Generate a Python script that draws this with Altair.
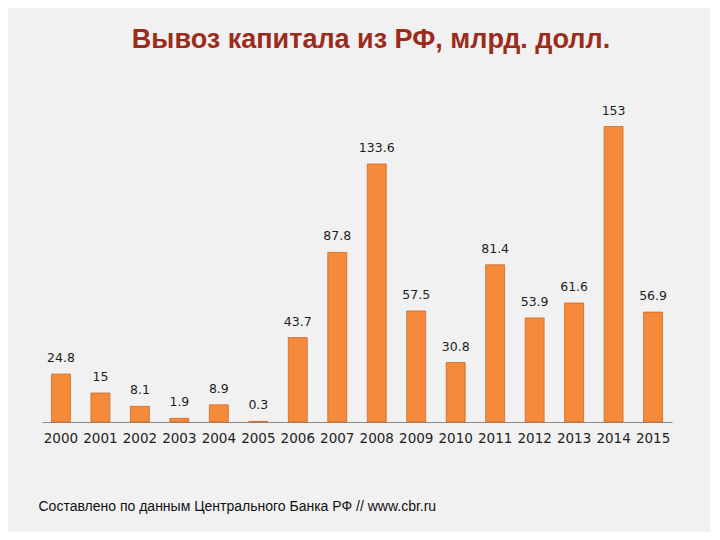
import altair as alt
import pandas as pd

years = ["2000", "2001", "2002", "2003", "2004", "2005", "2006", "2007",
         "2008", "2009", "2010", "2011", "2012", "2013", "2014", "2015"]
values = [24.8, 15, 8.1, 1.9, 8.9, 0.3, 43.7, 87.8, 133.6, 57.5, 30.8,
          81.4, 53.9, 61.6, 153, 56.9]
labels = ["24.8", "15", "8.1", "1.9", "8.9", "0.3", "43.7", "87.8", "133.6",
          "57.5", "30.8", "81.4", "53.9", "61.6", "153", "56.9"]

title_text = "Вывоз капитала из РФ, млрд. долл."
source_text = "Составлено по данным Центрального Банка РФ // www.cbr.ru"

df = pd.DataFrame({"year": years, "value": values, "label": labels})

x = alt.X(
    "year:N",
    sort=years,
    scale=alt.Scale(paddingInner=0.52, paddingOuter=0.24),
    axis=alt.Axis(
        title=source_text,
        titleFont="Liberation Sans",
        titleFontSize=14,
        titleFontWeight="normal",
        titleColor="#111111",
        titleAnchor="start",
        titleAlign="left",
        titleBaseline="middle",
        titleX=-4,
        titleY=84,
        labelAngle=0,
        labelFont="DejaVu Sans",
        labelFontSize=13.5,
        labelColor="#1e1e1e",
        labelPadding=9,
        ticks=False,
        domainColor="#8a8a8a",
        domainWidth=1.2,
    ),
)
y = alt.Y("value:Q", scale=alt.Scale(domain=[0, 160], nice=False), axis=None)

bars = alt.Chart(df).mark_bar(
    color="#f68a3b", stroke="#c9692a", strokeWidth=0.8
).encode(x=x, y=y)

text = alt.Chart(df).mark_text(
    dy=-9, baseline="bottom", font="DejaVu Sans", fontSize=12.5, color="#1e1e1e"
).encode(x=alt.X("year:N", sort=years), y="value:Q", text="label:N")

chart = (
    alt.layer(bars, text)
    .properties(
        width=630,
        height=309,
        title=alt.TitleParams(
            title_text,
            font="Liberation Sans",
            fontSize=27,
            fontWeight="bold",
            color="#9c2b1b",
            anchor="middle",
            dx=14,
            offset=51,
        ),
        autosize=alt.AutoSizeParams(type="none"),
        padding={"left": 34, "top": 105, "right": 38, "bottom": 110},
        background="#f1f1f1",
    )
    .configure_view(stroke=None)
)

chart.save("out.html", embed_options={"renderer": "svg", "actions": False})
